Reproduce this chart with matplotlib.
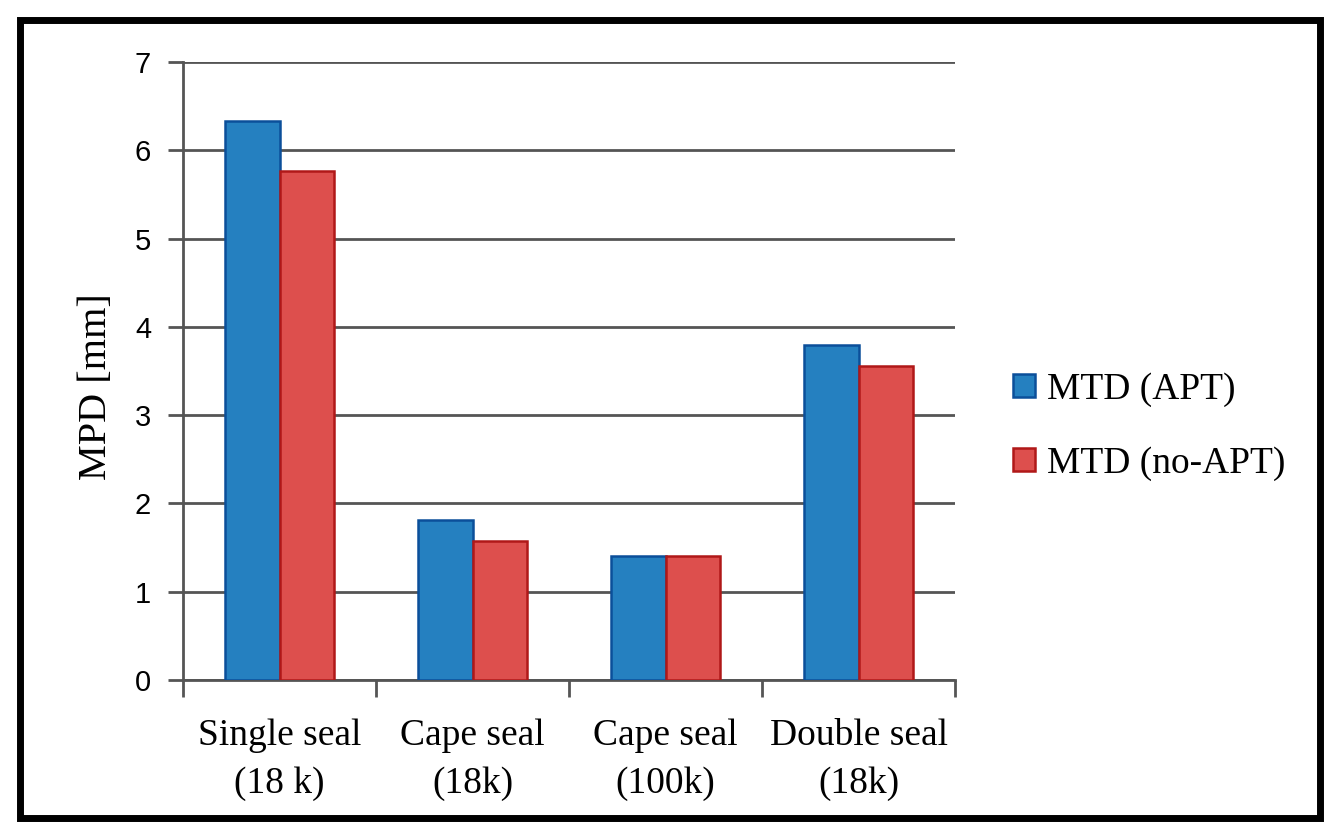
import numpy as np
import matplotlib.pyplot as plt
from matplotlib.patches import Rectangle

# Data
categories = ["Single seal\n(18 k)", "Cape seal\n(18k)", "Cape seal\n(100k)", "Double seal\n(18k)"]
mtd_apt = [6.33, 1.81, 1.41, 3.80]
mtd_no_apt = [5.76, 1.57, 1.40, 3.56]
series_names = ["MTD (APT)", "MTD (no-APT)"]

plt.rcParams["font.family"] = ["Liberation Serif", "DejaVu Serif"]

fig = plt.figure(figsize=(13.4, 8.38), dpi=100)
ax = fig.add_axes([183 / 1340, 1 - 680 / 838, (955 - 183) / 1340, (680 - 62) / 838])

x = np.arange(len(categories))
w = 0.28
ax.bar(x - w / 2, mtd_apt, w, color="#2580c0", edgecolor="#0b4f9a", linewidth=1.8,
       label=series_names[0], zorder=3)
ax.bar(x + w / 2, mtd_no_apt, w, color="#dd4f4d", edgecolor="#b01818", linewidth=1.8,
       label=series_names[1], zorder=3)

ax.set_xlim(-0.5, len(categories) - 0.5)
ax.set_ylim(0, 7)
ax.set_yticks(range(0, 8))
ax.yaxis.grid(True, color="#555555", linewidth=2, zorder=0)

# category ticks sit on the group boundaries
ax.set_xticks(np.arange(-0.5, len(categories), 1.0))
ax.set_xticklabels([])
ax.set_xticks(x, minor=True)
ax.set_xticklabels(categories, minor=True, fontsize=27, linespacing=1.5)
ax.tick_params(axis="x", which="minor", length=0, pad=28)
ax.tick_params(axis="x", which="major", length=12, width=2, color="#555555")
ax.tick_params(axis="y", length=11, width=2, color="#555555", labelsize=21, pad=12)
for lab in ax.get_yticklabels():
    lab.set_family(["Liberation Sans", "DejaVu Sans"])

for s in ["top", "right"]:
    ax.spines[s].set_visible(False)
ax.spines["left"].set_color("#555555")
ax.spines["left"].set_linewidth(2)
ax.spines["bottom"].set_color("#555555")
ax.spines["bottom"].set_linewidth(2)

ax.set_ylabel("MPD [mm]", fontsize=29, labelpad=14, y=0.475)

ax.legend(loc="center left", bbox_to_anchor=(1.075, 0.41), frameon=False, fontsize=27,
          handlelength=0.6, handleheight=0.6, handletextpad=0.3, labelspacing=1.05,
          borderpad=0, borderaxespad=0)

# black frame around the whole figure
fig.patches.append(Rectangle((20 / 1340, 20 / 838), 1 - 40 / 1340, 1 - 40 / 838,
                             transform=fig.transFigure, fill=False, edgecolor="black",
                             linewidth=5))

fig.savefig("out.png", dpi=100)
